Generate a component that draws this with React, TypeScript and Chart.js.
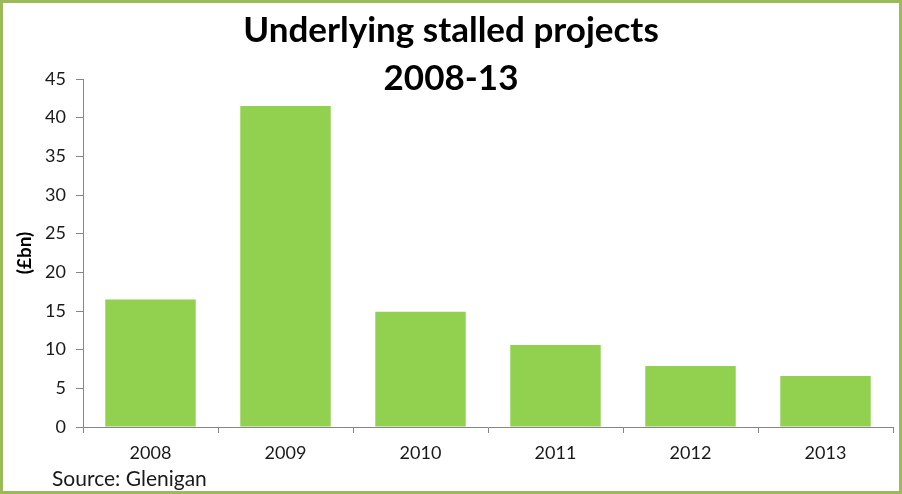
import React, { useEffect, useRef } from "react";
import { Chart, registerables } from "chart.js";

Chart.register(...registerables);

const categories = ["2008", "2009", "2010", "2011", "2012", "2013"];
const values = [16.5, 41.5, 14.9, 10.6, 7.9, 6.6];
const titleLines = ["Underlying stalled projects", "2008-13"];
const yAxisTitle = "(£bn)";
const sourceText = "Source: Glenigan";

const FONT = "Lato, Calibri, 'Open Sans', sans-serif";
const BORDER = "#9BBB59";
const BAR = "#92D050";
const AXIS = "#868686";
const TEXT = "#1a1a1a";

const decorPlugin = {
  id: "decor",
  afterDraw(chart: any) {
    const ctx = chart.ctx as CanvasRenderingContext2D;
    const w = chart.width;
    const h = chart.height;
    ctx.save();
    // title
    ctx.fillStyle = "#000";
    ctx.textAlign = "center";
    ctx.textBaseline = "alphabetic";
    ctx.font = `bold 35px ${FONT}`;
    ctx.fillText(titleLines[0], w / 2, 42);
    ctx.fillText(titleLines[1], w / 2, 90);
    // source
    ctx.textAlign = "left";
    ctx.font = `21px ${FONT}`;
    ctx.fillStyle = TEXT;
    ctx.fillText(sourceText, 52, 486);
    // border
    ctx.strokeStyle = BORDER;
    ctx.lineWidth = 3;
    ctx.strokeRect(1.5, 1.5, w - 3, h - 3);
    ctx.restore();
  },
};

export default function App() {
  const ref = useRef<HTMLCanvasElement | null>(null);
  useEffect(() => {
    document.body.style.margin = "0";
    const chart = new Chart(ref.current!, {
      type: "bar",
      data: {
        labels: categories,
        datasets: [
          {
            data: values,
            backgroundColor: BAR,
            borderWidth: 0,
            barPercentage: 0.67,
            categoryPercentage: 1,
          },
        ],
      },
      options: {
        animation: false,
        responsive: false,
        layout: { padding: { top: 79, left: 3, right: 9, bottom: 3 } },
        plugins: { legend: { display: false }, tooltip: { enabled: false }, title: { display: false } },
        scales: {
          x: {
            grid: {
              display: true,
              drawOnChartArea: false,
              offset: true,
              tickLength: 6,
              color: AXIS,
            },
            border: { color: AXIS, width: 1 },
            ticks: { color: TEXT, font: { family: FONT, size: 18 }, padding: 9, maxRotation: 0 },
            afterFit(scale: any) {
              scale.height = 64;
            },
          },
          y: {
            min: 0,
            max: 45,
            ticks: { stepSize: 5, color: TEXT, font: { family: FONT, size: 18 }, padding: 10 },
            grid: { display: true, drawOnChartArea: false, tickLength: 7, color: AXIS },
            border: { color: AXIS, width: 1 },
            title: {
              display: true,
              text: yAxisTitle,
              color: "#000",
              font: { family: FONT, size: 19, weight: "bold" },
              padding: { top: 10, bottom: 0 },
            },
            afterFit(scale: any) {
              scale.width = 80;
            },
          },
        },
      },
      plugins: [decorPlugin],
    });
    return () => chart.destroy();
  }, []);
  return (
    <div style={{ width: 902, height: 494, background: "#fff" }}>
      <canvas ref={ref} width={902} height={494} style={{ display: "block" }} />
    </div>
  );
}
